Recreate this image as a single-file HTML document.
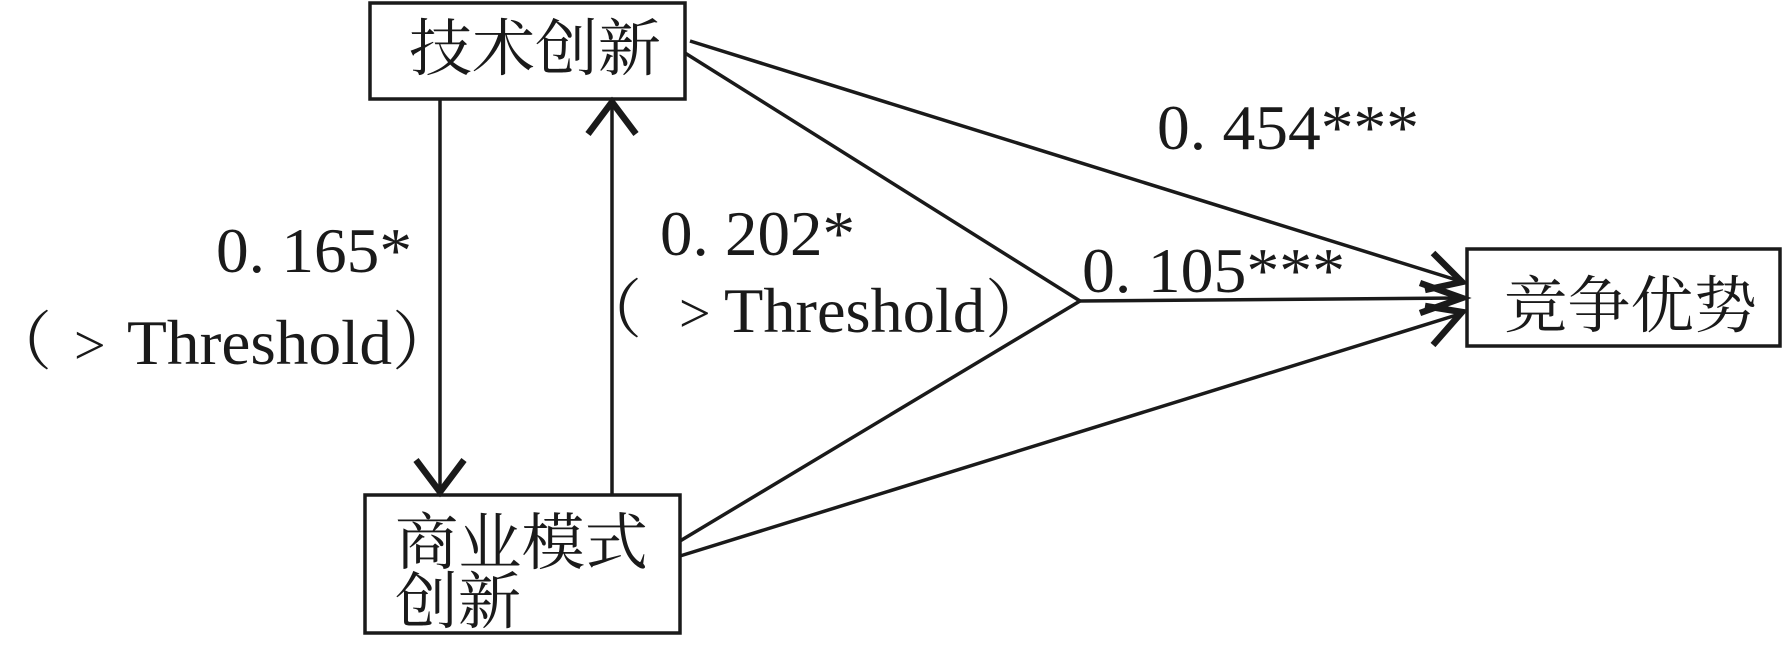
<!DOCTYPE html>
<html><head><meta charset="utf-8"><style>
html,body{margin:0;padding:0;background:#fff;}
svg{display:block;}
text{font-family:"Liberation Serif","Noto Serif CJK SC",serif;fill:#1a1a1a;}
.cjk{font-family:"Liberation Serif","Noto Serif CJK SC","Noto Sans CJK SC",serif;}
</style></head><body>
<svg width="1783" height="666" viewBox="0 0 1783 666" xmlns="http://www.w3.org/2000/svg">
<g fill="none" stroke="#1a1a1a" stroke-width="3.5">
<rect x="370" y="3" width="315" height="96"/>
<rect x="365" y="495" width="315" height="138"/>
<rect x="1467" y="249" width="313" height="97"/>
</g>
<g stroke="#1a1a1a" stroke-width="3.5" fill="none">
<line x1="440" y1="99" x2="440" y2="493"/>
<line x1="612" y1="495" x2="612" y2="101"/>
<line x1="690" y1="41" x2="1463" y2="282"/>
<line x1="685" y1="53" x2="1080" y2="301"/>
<line x1="1080" y1="301" x2="680" y2="541"/>
<line x1="1080" y1="301" x2="1463" y2="298"/>
<line x1="680" y1="556" x2="1463" y2="313"/>
</g>
<g stroke="#1a1a1a" stroke-width="6.5" fill="none" stroke-linecap="butt">
<polyline points="416,460 440,492 464,460"/>
<polyline points="588,134 612,102 636,134"/>
<polyline points="1433,253 1462,282 1425,290"/>
<polyline points="1420,283 1462,298 1420,313"/>
<polyline points="1425,306 1462,312 1433,345"/>
</g>
<text class="cjk" x="409" y="70" font-size="62" textLength="252" lengthAdjust="spacingAndGlyphs">技术创新</text>
<text class="cjk" x="395" y="564" font-size="62" textLength="253" lengthAdjust="spacingAndGlyphs">商业模式</text>
<text class="cjk" x="395" y="623" font-size="62" textLength="126" lengthAdjust="spacingAndGlyphs">创新</text>
<text class="cjk" x="1504" y="327" font-size="62" textLength="253" lengthAdjust="spacingAndGlyphs">竞争优势</text>
<text x="1157" y="149" font-size="64" textLength="262" lengthAdjust="spacingAndGlyphs">0. 454***</text>
<text x="216" y="272" font-size="64" textLength="196" lengthAdjust="spacingAndGlyphs">0. 165*</text>
<text x="660" y="255" font-size="64" textLength="195" lengthAdjust="spacingAndGlyphs">0. 202*</text>
<text x="1082" y="292" font-size="64" textLength="263" lengthAdjust="spacingAndGlyphs">0. 105***</text>

<text x="-12" y="364" font-size="64">（</text>
<text x="74" y="364" font-size="56">&gt;</text>
<text x="127" y="364" font-size="64" textLength="265" lengthAdjust="spacingAndGlyphs">Threshold</text>
<text x="392" y="364" font-size="64">）</text>

<text x="578" y="332" font-size="64">（</text>
<text x="679" y="332" font-size="56">&gt;</text>
<text x="724" y="332" font-size="64" textLength="261" lengthAdjust="spacingAndGlyphs">Threshold</text>
<text x="985" y="332" font-size="64">）</text>
</svg>
</body></html>
